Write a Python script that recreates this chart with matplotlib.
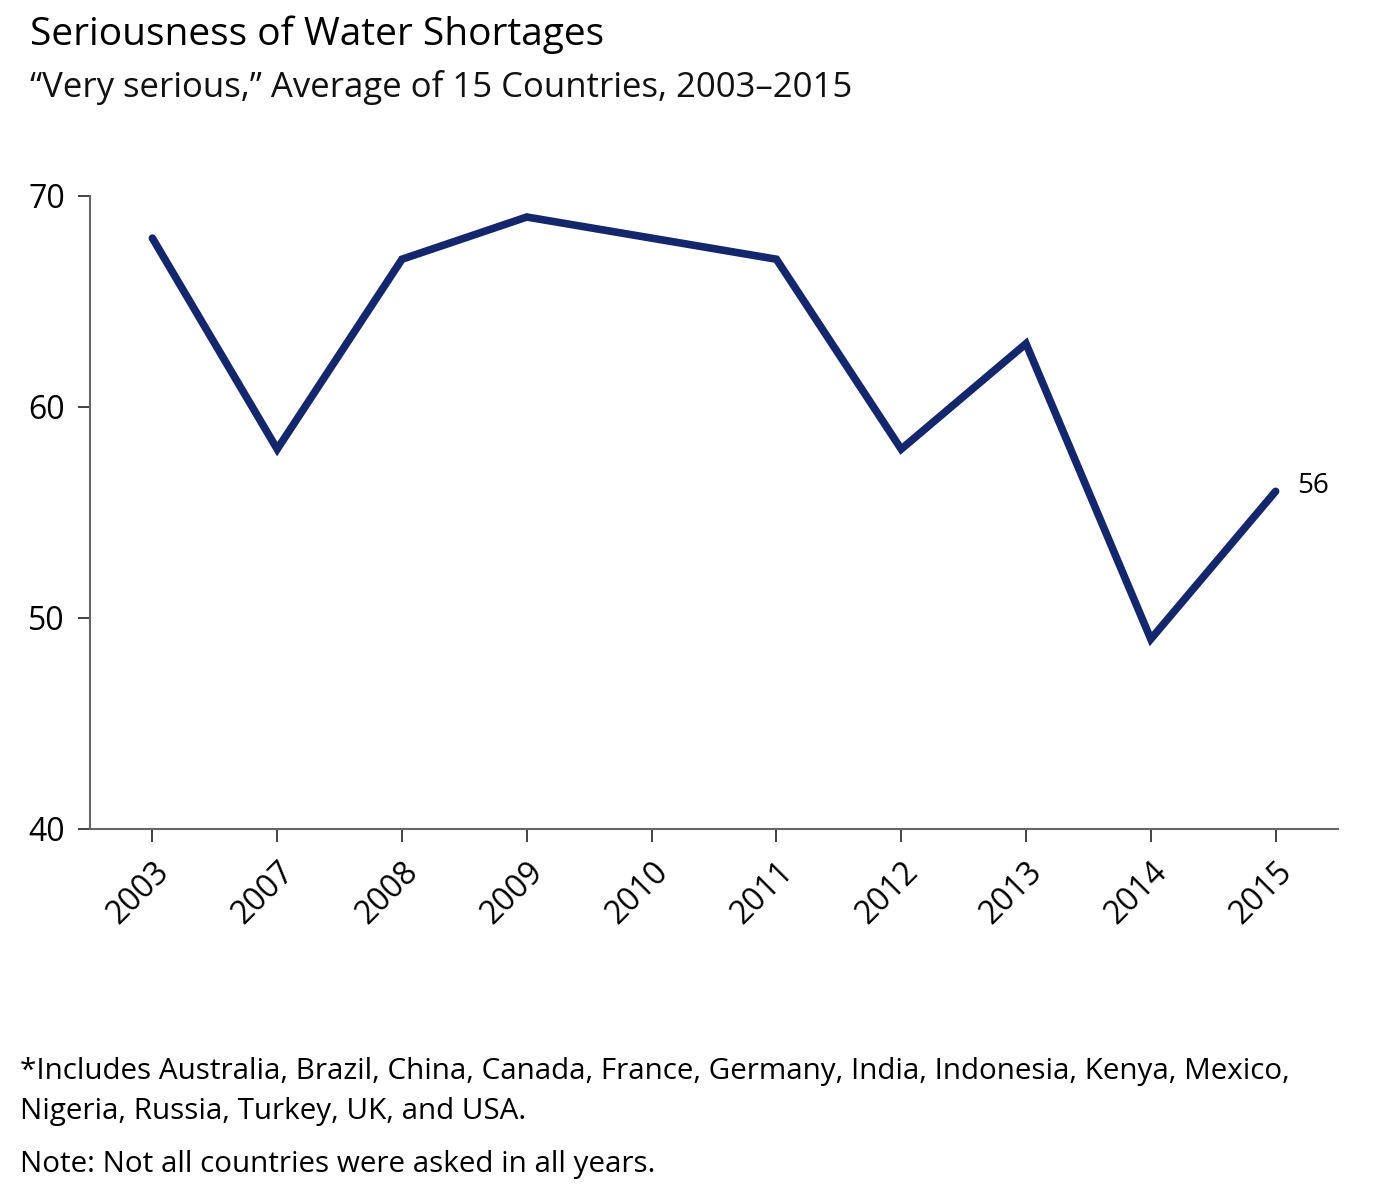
import matplotlib.pyplot as plt
import numpy as np

plt.rcParams['font.family'] = ['Open Sans', 'DejaVu Sans']

years = ['2003', '2007', '2008', '2009', '2010', '2011', '2012', '2013', '2014', '2015']
very_serious = [68, 58, 67, 69, 68, 67, 58, 63, 49, 56]

line_color = '#15276c'
spine_color = '#666666'

fig = plt.figure(figsize=(13.74, 11.99), dpi=100)
ax = fig.add_axes([0.0655, 0.3086, 0.9083, 0.528])

x = np.arange(len(years))
ax.plot(x, very_serious, color=line_color, lw=5.5, solid_capstyle='round', solid_joinstyle='miter')
# value label beside the last point
ax.text(x[-1] + 0.17, very_serious[-1] + 0.25, str(very_serious[-1]), fontsize=20,
        ha='left', va='center', color='black')

ax.set_xlim(-0.5, 9.5)
ax.set_ylim(40, 70)
ax.set_yticks([40, 50, 60, 70])
ax.set_xticks(x)
ax.set_xticklabels(years, rotation=45, ha='right', rotation_mode='anchor')

for side in ['top', 'right']:
    ax.spines[side].set_visible(False)
for side in ['left', 'bottom']:
    ax.spines[side].set_color(spine_color)
    ax.spines[side].set_linewidth(1.5)
ax.spines['left'].set_bounds(40, 70)

ax.tick_params(axis='both', direction='out', length=9, width=1.2, color='#222222',
               labelsize=23)
ax.tick_params(axis='x', pad=10)
ax.tick_params(axis='y', pad=9)

fig.text(30 / 1374, 1 - 45 / 1199, 'Seriousness of Water Shortages', fontsize=28,
         ha='left', va='baseline')
fig.text(30 / 1374, 1 - 97 / 1199, '\u201cVery serious,\u201d Average of 15 Countries, 2003\u20132015',
         fontsize=25, ha='left', va='baseline', color='#111111')

fig.text(20 / 1374, 1 - 1079 / 1199,
         '*Includes Australia, Brazil, China, Canada, France, Germany, India, Indonesia, Kenya, Mexico,',
         fontsize=21.3, ha='left', va='baseline')
fig.text(20 / 1374, 1 - 1119 / 1199, 'Nigeria, Russia, Turkey, UK, and USA.',
         fontsize=21.3, ha='left', va='baseline')
fig.text(20 / 1374, 1 - 1172 / 1199, 'Note: Not all countries were asked in all years.',
         fontsize=21.3, ha='left', va='baseline')

fig.savefig('out.png', dpi=100)
